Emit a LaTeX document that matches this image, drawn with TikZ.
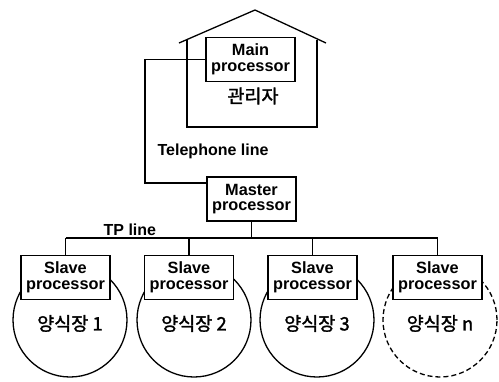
\documentclass[tikz,border=0pt]{standalone}
\usepackage{fontspec}
\setmainfont{Liberation Sans}
\newfontfamily\kr[BoldFont={Noto Sans CJK KR},BoldFeatures={FakeBold=1.5}]{Noto Sans CJK KR}
\newcommand\bx[2]{\bfseries #1\\\bfseries #2}
\begin{document}
\begin{tikzpicture}[x=1pt,y=-1pt,line width=1.3pt,
  box/.style={draw,fill=white,minimum width=89pt,minimum height=44pt,align=center,inner sep=1pt,
    font=\bfseries\fontsize{16.3}{15.5}\selectfont},
  pond/.style={draw,circle,minimum size=114pt,inner sep=0pt},
  krlab/.style={font=\kr\bfseries\fontsize{18.5}{18.5}\selectfont},
  lab/.style={font=\bfseries\fontsize{16}{16}\selectfont}]
\useasboundingbox (0,0) rectangle (499,381);
% house
\coordinate (eaveL) at (179,43);
\coordinate (peak) at (255,10);
\coordinate (eaveR) at (326,43);
\coordinate (wallLT) at (187,39.5);
\coordinate (wallLB) at (187,127);
\coordinate (wallRB) at (317,127);
\coordinate (wallRT) at (317,39.5);
\draw[line join=miter] (eaveL) -- (peak) -- (eaveR);
\draw (wallLT) -- (wallLB) -- (wallRB) -- (wallRT);
\node[box] (main) at (250.5,59.5) {\bx{Main}{processor}};
\node[krlab] (mgr) at (253,96) {관리자};
% master
\node[box] (master) at (251.5,199) {\bx{Master}{processor}};
\coordinate (tcorner) at (145,63);
\coordinate (tjoin) at (207,183);
\draw (main.west) -- (main.west -| tcorner) |- (tjoin);
\node[lab,anchor=base west,inner sep=0pt] (tel) at (157,155) {Telephone line};
% ponds
\node[pond] (p1) at (70,320) {};
\node[pond] (p2) at (194,320) {};
\node[pond] (p3) at (317,320) {};
\node[pond,dash pattern=on 5pt off 3pt] (pn) at (440,320) {};
\node[krlab] at (70,323.5) {양식장 1};
\node[krlab] at (194,323.5) {양식장 2};
\node[krlab] at (317,323.5) {양식장 3};
\node[krlab] at (440,323.5) {양식장 n};
% slaves
\node[box] (s1) at (65.5,277.5) {\bx{Slave}{processor}};
\node[box] (s2) at (189,277.5) {\bx{Slave}{processor}};
\node[box] (s3) at (312.5,277.5) {\bx{Slave}{processor}};
\node[box] (sn) at (437.5,277.5) {\bx{Slave}{processor}};
% bus
\coordinate (busL) at (65.5,238);
\coordinate (busR) at (437.5,238);
\draw (busL) -- (busR);
\draw (master.south) -- (master.south |- busL);
\foreach \s in {s1,s2,s3,sn} \draw (\s.north) -- (\s.north |- busL);
\node[lab,anchor=base west,inner sep=0pt] (tp) at (103,235) {TP line};
\end{tikzpicture}
\end{document}
